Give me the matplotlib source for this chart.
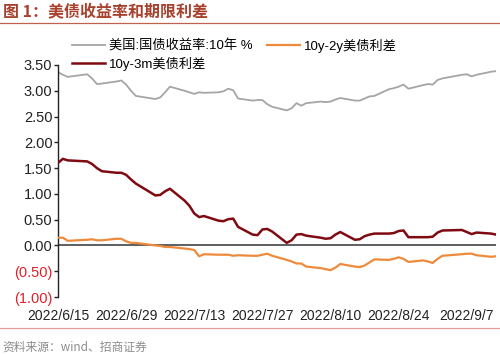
import matplotlib
matplotlib.use("Agg")
import matplotlib.pyplot as plt
from matplotlib.lines import Line2D
import pandas as pd

plt.rcParams['font.family'] = ['Liberation Sans', 'Noto Sans CJK SC', 'DejaVu Sans']

dates = pd.to_datetime([
    "2022-06-15", "2022-06-16", "2022-06-17", "2022-06-21", "2022-06-22", "2022-06-23", "2022-06-24",
    "2022-06-27", "2022-06-28", "2022-06-29", "2022-06-30", "2022-07-01", "2022-07-05", "2022-07-06",
    "2022-07-07", "2022-07-08", "2022-07-11", "2022-07-12", "2022-07-13", "2022-07-14", "2022-07-15",
    "2022-07-18", "2022-07-19", "2022-07-20", "2022-07-21", "2022-07-22", "2022-07-25", "2022-07-26",
    "2022-07-27", "2022-07-28", "2022-07-29", "2022-08-01", "2022-08-02", "2022-08-03", "2022-08-04",
    "2022-08-05", "2022-08-08", "2022-08-09", "2022-08-10", "2022-08-11", "2022-08-12", "2022-08-15",
    "2022-08-16", "2022-08-17", "2022-08-18", "2022-08-19", "2022-08-22", "2022-08-23", "2022-08-24",
    "2022-08-25", "2022-08-26", "2022-08-29", "2022-08-30", "2022-08-31", "2022-09-01", "2022-09-02",
    "2022-09-06", "2022-09-07", "2022-09-08", "2022-09-09", "2022-09-12", "2022-09-13",
])

yield_10y = [
    3.36, 3.31, 3.27, 3.32, 3.24, 3.13, 3.14, 3.18, 3.20, 3.12, 3.00, 2.90, 2.84, 2.87,
    2.97, 3.08, 3.00, 2.97, 2.94, 2.97, 2.96, 2.97, 2.99, 3.04, 3.01, 2.85, 2.81, 2.82,
    2.82, 2.74, 2.69, 2.62, 2.66, 2.76, 2.71, 2.76, 2.79, 2.78, 2.79, 2.83, 2.86, 2.81,
    2.81, 2.85, 2.89, 2.90, 3.03, 3.05, 3.08, 3.12, 3.04, 3.11, 3.13, 3.12, 3.21, 3.24,
    3.31, 3.32, 3.28, 3.31, 3.37, 3.38,
]

spread_10y2y = [
    0.15, 0.15, 0.09, 0.11, 0.12, 0.10, 0.10, 0.13, 0.13, 0.08, 0.05, 0.05, 0.00, -0.01,
    -0.03, -0.03, -0.06, -0.07, -0.09, -0.21, -0.17, -0.18, -0.18, -0.18, -0.20, -0.19, -0.20, -0.20,
    -0.18, -0.16, -0.20, -0.28, -0.31, -0.35, -0.35, -0.41, -0.44, -0.46, -0.48, -0.43, -0.36, -0.41,
    -0.42, -0.39, -0.33, -0.27, -0.28, -0.26, -0.23, -0.26, -0.32, -0.29, -0.31, -0.34, -0.26, -0.20,
    -0.17, -0.16, -0.16, -0.19, -0.22, -0.21,
]

spread_10y3m = [
    1.60, 1.68, 1.65, 1.63, 1.58, 1.50, 1.44, 1.41, 1.41, 1.37, 1.28, 1.20, 0.97, 0.98,
    1.05, 1.10, 0.87, 0.77, 0.62, 0.55, 0.57, 0.48, 0.47, 0.51, 0.52, 0.36, 0.21, 0.20,
    0.31, 0.32, 0.27, 0.05, 0.10, 0.21, 0.22, 0.19, 0.15, 0.13, 0.14, 0.21, 0.26, 0.11,
    0.12, 0.18, 0.21, 0.23, 0.23, 0.24, 0.28, 0.29, 0.16, 0.16, 0.16, 0.17, 0.25, 0.29,
    0.30, 0.26, 0.22, 0.25, 0.23, 0.21,
]

series_names = ["美国:国债收益率:10年 %", "10y-3m美债利差", "10y-2y美债利差"]
tick_dates = pd.to_datetime(["2022-06-15", "2022-06-29", "2022-07-13", "2022-07-27",
                             "2022-08-10", "2022-08-24", "2022-09-07"])
tick_labels = ["2022/6/15", "2022/6/29", "2022/7/13", "2022/7/27", "2022/8/10", "2022/8/24", "2022/9/7"]
y_ticks = [-1.0, -0.5, 0.0, 0.5, 1.0, 1.5, 2.0, 2.5, 3.0, 3.5]

title_text = "图 1：美债收益率和期限利差"
source_text = "资料来源：wind、招商证券"

W, H = 500, 355
fig = plt.figure(figsize=(W / 100, H / 100), dpi=100)
ax = fig.add_axes([58 / W, 1 - 297 / H, (496 - 58) / W, (297 - 65) / H])

c_gray = "#A5A5A5"
c_red = "#7F0A12"
c_orange = "#EE8A3C"

ax.axhline(0, color="#333333", lw=1.1, zorder=1)
l1, = ax.plot(dates, yield_10y, color=c_gray, lw=1.3, zorder=2)
l3, = ax.plot(dates, spread_10y2y, color=c_orange, lw=1.6, zorder=3)
l2, = ax.plot(dates, spread_10y3m, color=c_red, lw=1.8, zorder=4)

ax.set_xlim(dates[0], dates[-1])
ax.set_ylim(-1.0, 3.5)
ax.set_yticks(y_ticks)
ylabels = []
for v in y_ticks:
    ylabels.append(f"({abs(v):.2f})" if v < 0 else f"{v:.2f}")
ax.set_yticklabels(ylabels, fontsize=10.5)
for lab, v in zip(ax.get_yticklabels(), y_ticks):
    lab.set_color("#E0202A" if v < 0 else "#222222")
ax.tick_params(axis="y", length=3, width=1, pad=1, color="#222222")

ax.set_xticks(tick_dates)
ax.set_xticklabels(tick_labels, fontsize=10, color="#222222")
ax.tick_params(axis="x", length=0, pad=9)

for s in ["top", "right", "bottom"]:
    ax.spines[s].set_visible(False)
ax.spines["left"].set_color("#222222")
ax.spines["left"].set_linewidth(1.0)

leg = fig.legend([l1, l2, l3], series_names, ncol=2, loc="upper left",
                 bbox_to_anchor=(60 / W, 1 - 27 / H), frameon=False,
                 handlelength=2.5, handletextpad=0.3,
                 columnspacing=1.1, labelspacing=0.3,
                 prop={'family': ['Liberation Sans', 'Noto Sans CJK SC'], 'size': 9.5})

fig.text(3 / W, 1 - 11 / H, title_text, fontsize=11.5, fontweight="bold",
         color="#A8402E", va="center", ha="left",
         family=['Noto Sans CJK SC', 'DejaVu Sans'])
fig.add_artist(Line2D([0, 1], [1 - 23 / H, 1 - 23 / H], color="#C0604E", lw=0.9))
fig.add_artist(Line2D([0, 1], [1 - 328 / H, 1 - 328 / H], color="#E39A9A", lw=0.9))
fig.text(2 / W, 1 - 347 / H, source_text, fontsize=8.5, color="#8C8C8C",
         va="center", ha="left", family=['Noto Sans CJK SC', 'DejaVu Sans'])

fig.savefig("out.png", dpi=100)
